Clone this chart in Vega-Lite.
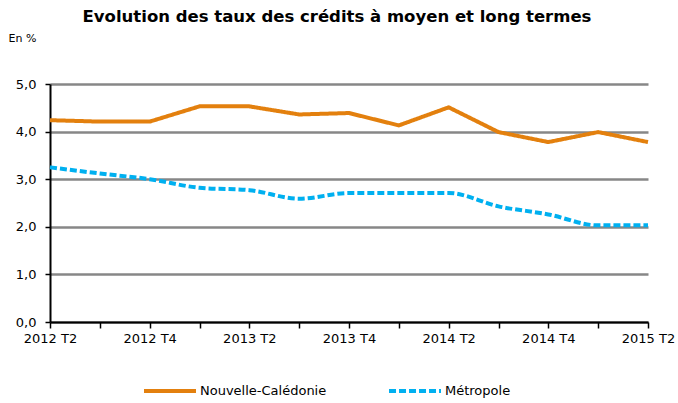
{
  "$schema": "https://vega.github.io/schema/vega-lite/v6.json",
  "width": 598,
  "height": 238,
  "autosize": {"type": "none"},
  "padding": {"left": 50, "top": 84, "right": 30, "bottom": 81},
  "background": "white",
  "title": {
    "text": "Evolution des taux des crédits à moyen et long termes",
    "font": "DejaVu Sans",
    "fontSize": 16.5,
    "fontWeight": "bold",
    "color": "black",
    "anchor": "middle",
    "frame": "group",
    "dx": -12,
    "offset": 7
  },
  "config": {
    "view": {"stroke": null},
    "font": "DejaVu Sans"
  },
  "data": {
    "values": [
      {"t": "2012 T2", "s": "Nouvelle-Calédonie", "v": 4.24},
      {"t": "2012 T3", "s": "Nouvelle-Calédonie", "v": 4.21},
      {"t": "2012 T4", "s": "Nouvelle-Calédonie", "v": 4.21},
      {"t": "2013 T1", "s": "Nouvelle-Calédonie", "v": 4.53},
      {"t": "2013 T2", "s": "Nouvelle-Calédonie", "v": 4.53},
      {"t": "2013 T3", "s": "Nouvelle-Calédonie", "v": 4.36},
      {"t": "2013 T4", "s": "Nouvelle-Calédonie", "v": 4.39},
      {"t": "2014 T1", "s": "Nouvelle-Calédonie", "v": 4.13},
      {"t": "2014 T2", "s": "Nouvelle-Calédonie", "v": 4.51},
      {"t": "2014 T3", "s": "Nouvelle-Calédonie", "v": 3.99},
      {"t": "2014 T4", "s": "Nouvelle-Calédonie", "v": 3.78},
      {"t": "2015 T1", "s": "Nouvelle-Calédonie", "v": 3.99},
      {"t": "2015 T2", "s": "Nouvelle-Calédonie", "v": 3.78},
      {"t": "2012 T2", "s": "Métropole", "v": 3.25},
      {"t": "2012 T3", "s": "Métropole", "v": 3.12},
      {"t": "2012 T4", "s": "Métropole", "v": 3.0},
      {"t": "2013 T1", "s": "Métropole", "v": 2.82},
      {"t": "2013 T2", "s": "Métropole", "v": 2.77},
      {"t": "2013 T3", "s": "Métropole", "v": 2.59},
      {"t": "2013 T4", "s": "Métropole", "v": 2.71},
      {"t": "2014 T1", "s": "Métropole", "v": 2.71},
      {"t": "2014 T2", "s": "Métropole", "v": 2.71},
      {"t": "2014 T3", "s": "Métropole", "v": 2.43},
      {"t": "2014 T4", "s": "Métropole", "v": 2.26},
      {"t": "2015 T1", "s": "Métropole", "v": 2.03},
      {"t": "2015 T2", "s": "Métropole", "v": 2.03}
    ]
  },
  "encoding": {
    "x": {
      "field": "t",
      "type": "ordinal",
      "sort": null,
      "scale": {"type": "point", "padding": 0},
      "axis": {
        "title": null,
        "labelAngle": 0,
        "labelExpr": "indexof(datum.value, 'T1') >= 0 || indexof(datum.value, 'T3') >= 0 ? '' : datum.value",
        "labelOverlap": false,
        "labelFont": "DejaVu Sans",
        "labelFontSize": 13,
        "labelColor": "black",
        "labelPadding": 4,
        "domainColor": "black",
        "domainWidth": 2,
        "tickColor": "black",
        "tickWidth": 1.5,
        "tickSize": 6,
        "grid": false,
        "zindex": 1
      }
    },
    "y": {
      "field": "v",
      "type": "quantitative",
      "scale": {"domain": [0, 5], "nice": false, "zero": true},
      "axis": {
        "values": [0, 1, 2, 3, 4, 5],
        "labelExpr": "replace(format(datum.value, '.1f'), '.', ',')",
        "labelFont": "DejaVu Sans",
        "labelFontSize": 13,
        "labelColor": "black",
        "labelPadding": 9,
        "domainColor": "black",
        "domainWidth": 2,
        "tickColor": "black",
        "tickWidth": 1.5,
        "tickSize": 5,
        "grid": true,
        "gridColor": "#878787",
        "gridWidth": 2.5,
        "title": "En %",
        "titleFont": "DejaVu Sans",
        "titleAngle": 0,
        "titleX": -42,
        "titleY": -46,
        "titleAlign": "left",
        "titleBaseline": "middle",
        "titleFontSize": 11,
        "titleFontWeight": "normal",
        "titleColor": "black"
      }
    },
    "color": {
      "field": "s",
      "type": "nominal",
      "scale": {"domain": ["Nouvelle-Calédonie", "Métropole"], "range": ["#E3800E", "#00B0F0"]},
      "legend": {
        "title": null,
        "orient": "none",
        "legendX": 92,
        "legendY": 279,
        "direction": "horizontal",
        "symbolType": "stroke",
        "symbolSize": 2700,
        "symbolStrokeWidth": 4,
        "labelFont": "DejaVu Sans",
        "labelFontSize": 13,
        "labelColor": "black",
        "labelOffset": 2,
        "labelLimit": 300,
        "columnPadding": 54
      }
    },
    "strokeDash": {
      "field": "s",
      "type": "nominal",
      "scale": {"domain": ["Nouvelle-Calédonie", "Métropole"], "range": [[1, 0], [7, 3]]},
      "legend": {
        "title": null,
        "orient": "none",
        "legendX": 92,
        "legendY": 279,
        "direction": "horizontal",
        "symbolType": "stroke",
        "symbolSize": 2700,
        "symbolStrokeWidth": 4,
        "labelFont": "DejaVu Sans",
        "labelFontSize": 13,
        "labelColor": "black",
        "labelOffset": 2,
        "labelLimit": 300,
        "columnPadding": 54
      }
    }
  },
  "layer": [
    {
      "transform": [{"filter": "datum.s == 'Nouvelle-Calédonie'"}],
      "mark": {"type": "line", "strokeWidth": 4}
    },
    {
      "transform": [{"filter": "datum.s == 'Métropole'"}],
      "mark": {"type": "line", "strokeWidth": 4, "interpolate": "monotone"}
    }
  ]
}
